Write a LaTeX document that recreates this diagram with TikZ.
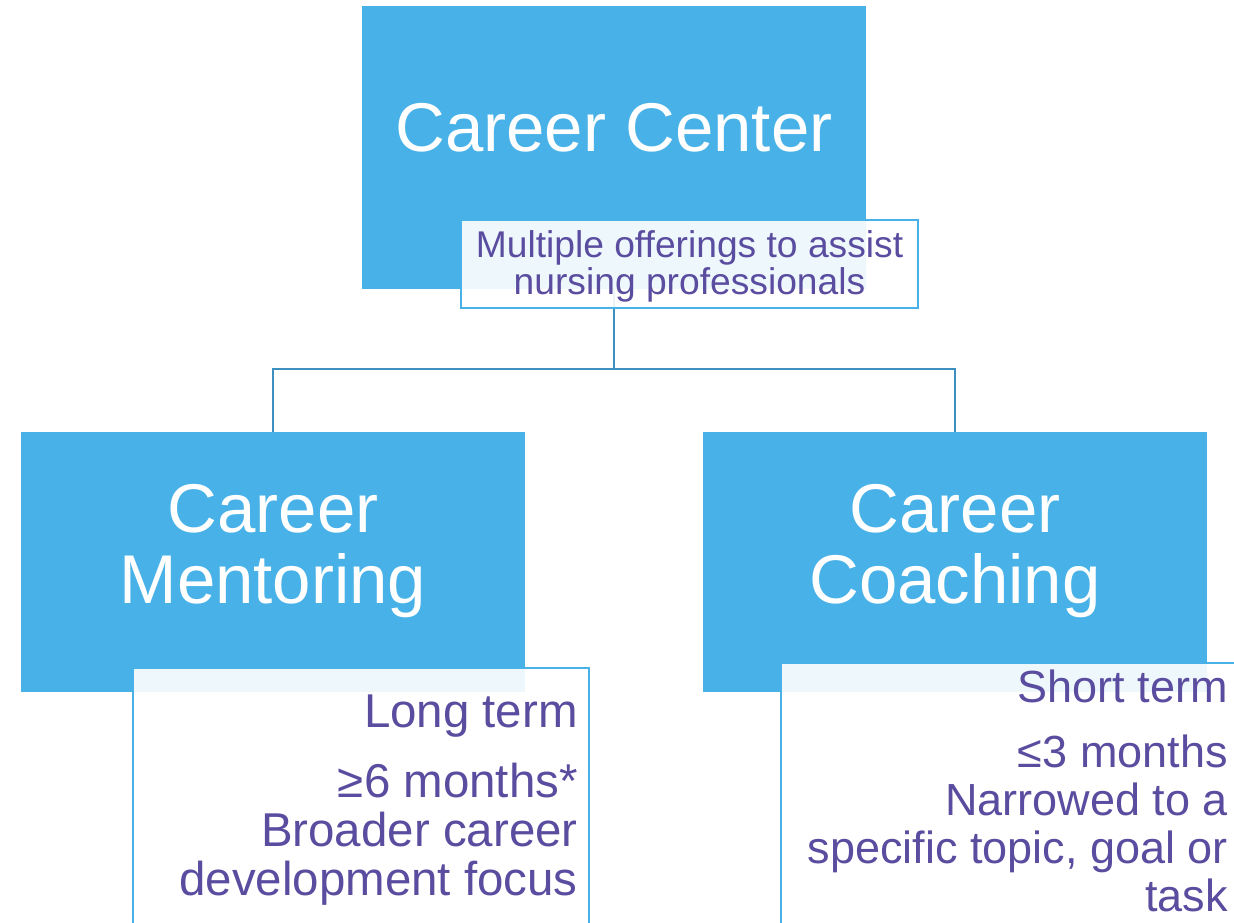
\documentclass[tikz,border=0pt]{standalone}
\usepackage{fontspec}
\setmainfont{Liberation Sans}
\definecolor{boxblue}{RGB}{72,178,232}
\definecolor{txtpurple}{RGB}{90,77,160}
\definecolor{linkblue}{RGB}{60,143,190}
\begin{document}
\begin{tikzpicture}[x=0.75pt,y=0.75pt,
  mainbox/.style={draw=none,fill=boxblue,minimum width=504*0.75pt,inner sep=0pt,outer sep=0pt},
  labelbox/.style={draw=boxblue,line width=1.8pt,fill=white,fill opacity=0.9},
  titletext/.style={text=white,inner sep=0pt,align=center},
  purpletext/.style={text=txtpurple,inner sep=0pt},
  link/.style={draw=linkblue,line width=2.2pt}
]
\useasboundingbox (0,0) rectangle (1234,922);
\clip (0,0) rectangle (1234,922);
% boxes
\node[mainbox,minimum height=283*0.75pt] (cc) at (614,774.5) {};
\node[mainbox,minimum height=260*0.75pt] (cm) at (273,360) {};
\node[mainbox,minimum height=260*0.75pt] (ch) at (955,360) {};
% connectors
\coordinate (bus) at (614,553);
\draw[link] (cc.south) -- (bus) -| (cm.north);
\draw[link] (bus) -| (ch.north);
% label boxes
\node[labelbox,minimum width=457*0.75pt,minimum height=88*0.75pt,inner sep=0pt] (l1) at (689.5,658) {};
\path[labelbox] (133,254) rectangle (589,-40);
\path[labelbox] (781,259) rectangle (1270,-40);
% texts
\node[titletext,anchor=base,font=\fontsize{51.75pt}{53.25pt}\selectfont] (cct) at (614,770) {Career Center};
\node[titletext,anchor=base,font=\fontsize{51.75pt}{53.25pt}\selectfont] (cmt) at (273,319) {Career\\Mentoring};
\node[titletext,anchor=base,font=\fontsize{51.75pt}{53.25pt}\selectfont] (cht) at (955,319) {Career\\Coaching};
\node[purpletext,align=center,anchor=base,font=\fontsize{27.9pt}{27.75pt}\selectfont] (l1t) at (689.5,627) {Multiple offerings to assist\\nursing professionals};
\node[purpletext,align=right,anchor=base east,font=\fontsize{35.6pt}{36.75pt}\selectfont] (lmt) at (578,27) {Long term\\[15.75pt]≥6 months*\\Broader career\\development focus};
\node[purpletext,align=right,anchor=base east,font=\fontsize{33.75pt}{36pt}\selectfont] (lct) at (1228,11) {Short term\\[12.75pt]≤3 months\\Narrowed to a\\specific topic, goal or\\task};
\end{tikzpicture}
\end{document}
